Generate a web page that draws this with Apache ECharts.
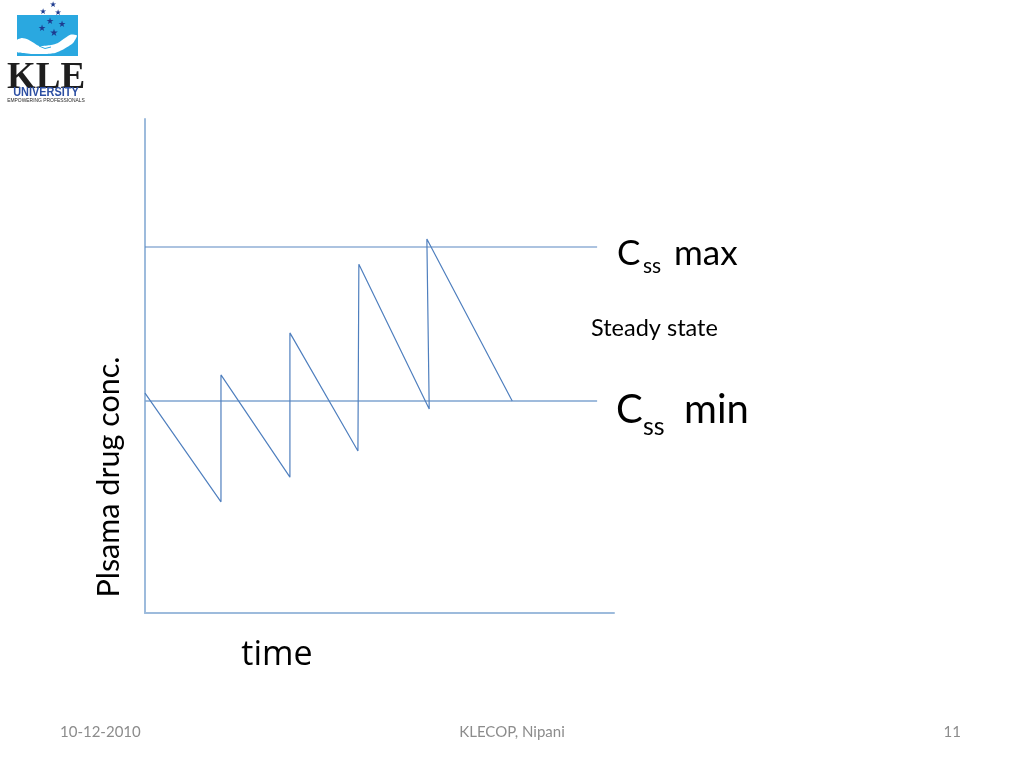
<!DOCTYPE html>
<html>
<head>
<meta charset="utf-8">
<script src="https://cdn.jsdelivr.net/npm/echarts@6/dist/echarts.min.js"></script>
<style>html,body{margin:0;padding:0;background:#fff;}#c{width:1024px;height:768px;}</style>
</head>
<body>
<div id="c"></div>
<script>
// Plasma concentration over time (arbitrary units, 0-100 on both axes)
const sawTime = [0, 16.2, 16.2, 30.9, 30.9, 45.4, 45.6, 60.6, 60.1, 78.3];
const sawConc = [44.5, 22.5, 48.2, 27.5, 56.7, 32.8, 70.6, 41.3, 75.7, 42.9];
const cssMax = 74.1;
const cssMin = 42.9;
const levelLineEnd = 96.4;
const xLabel = 'time';
const yLabel = 'Plsama drug conc.';
const footerDate = '10-12-2010';
const footerCenter = 'KLECOP, Nipani';
const footerPage = '11';

const F = 'Lato, "Open Sans", sans-serif';
const chart = echarts.init(document.getElementById('c'), null, {renderer: 'canvas'});

const sawData = sawTime.map((t, i) => [t, sawConc[i]]);

function txt(text, x, y, size, opts) {
  opts = opts || {};
  return {
    type: 'text', x: x, y: y, rotation: opts.rotation || 0, silent: true,
    scaleX: opts.scaleX || 1,
    style: {
      text: text, fill: opts.fill || '#000',
      font: (opts.weight || 'normal') + ' ' + size + 'px ' + (opts.family || F),
      align: opts.align || 'left', verticalAlign: opts.va || 'top'
    }
  };
}

const stars = [[53,5,8],[43,12,8],[58,13,8],[50,22,9],[62,25,9],[42,29,9],[54,33,10]];
const handPts = [[17,40],[22,38],[28,39.5],[34,43],[39,46],[51,45],[58,43],[65,38],[71,34.5],[77,35.5],[73,43],[64,49],[55,53],[45,54],[31,54],[24,53],[17,52]];

const graphics = [
  // logo
  {type: 'rect', shape: {x: 17, y: 15, width: 61, height: 41}, style: {fill: '#2aa8e0'}, silent: true},
  {type: 'polygon', silent: true, shape: {points: handPts, smooth: 0.2}, style: {fill: '#ffffff'}},
  {type: 'polyline', silent: true, shape: {points: [[39,46],[45,48.5],[51,47]]}, style: {stroke: '#2aa8e0', lineWidth: 1, fill: null}},
  ...stars.map(s => ({type: 'text', x: s[0], y: s[1], silent: true,
    style: {text: '\u2605', fill: '#1d3b8f', font: s[2] + 'px "DejaVu Sans"', align: 'center', verticalAlign: 'middle'}})),
  txt('KLE', 46, 60, 37, {family: '"Liberation Serif", serif', weight: 'bold', align: 'center', fill: '#1e1e1e'}),
  txt('UNIVERSITY', 46, 86, 13, {family: '"Liberation Sans", sans-serif', weight: 'bold', align: 'center', fill: '#2c4fa3', scaleX: 0.84}),
  txt('EMPOWERING PROFESSIONALS', 46, 97, 6, {family: '"Liberation Sans", sans-serif', align: 'center', fill: '#1e1e1e', scaleX: 0.82}),

  // level labels
  txt('C', 617, 236, 35),
  txt('ss', 643, 256, 21),
  txt('max', 674, 236, 35),
  txt('Steady state', 591, 316, 23.5),
  txt('C', 616, 390, 40),
  txt('ss', 643, 414, 25),
  txt('min', 684, 390, 40),

  // axis titles
  txt(xLabel, 277, 638, 34, {align: 'center', family: '"Open Sans", sans-serif'}),
  txt(yLabel, 109, 477, 30.5, {align: 'center', va: 'middle', rotation: Math.PI / 2}),

  // footer
  txt(footerDate, 60, 725, 15, {fill: '#8c8c8c'}),
  txt(footerCenter, 512, 725, 15, {fill: '#8c8c8c', align: 'center'}),
  txt(footerPage, 961, 725, 15, {fill: '#8c8c8c', align: 'right'})
];

chart.setOption({
  animation: false,
  backgroundColor: '#ffffff',
  grid: {left: 145, top: 119, width: 469, height: 494, containLabel: false},
  xAxis: {
    type: 'value', min: 0, max: 100,
    axisLine: {show: true, onZero: false, lineStyle: {color: '#9dbbdc', width: 2}},
    axisTick: {show: false}, axisLabel: {show: false}, splitLine: {show: false}
  },
  yAxis: {
    type: 'value', min: 0, max: 100,
    axisLine: {show: true, onZero: false, lineStyle: {color: '#9dbbdc', width: 2}},
    axisTick: {show: false}, axisLabel: {show: false}, splitLine: {show: false}
  },
  series: [
    {type: 'line', name: 'Css max', data: [[0, cssMax], [levelLineEnd, cssMax]], symbol: 'none',
      lineStyle: {color: '#5b87c2', width: 1.1}, silent: true},
    {type: 'line', name: 'Css min', data: [[0, cssMin], [levelLineEnd, cssMin]], symbol: 'none',
      lineStyle: {color: '#7fa4d0', width: 1.6}, silent: true},
    {type: 'line', name: 'Plasma', data: sawData, symbol: 'none',
      lineStyle: {color: '#4f7fbe', width: 1.2}, silent: true}
  ],
  graphic: graphics
});
</script>
</body>
</html>
